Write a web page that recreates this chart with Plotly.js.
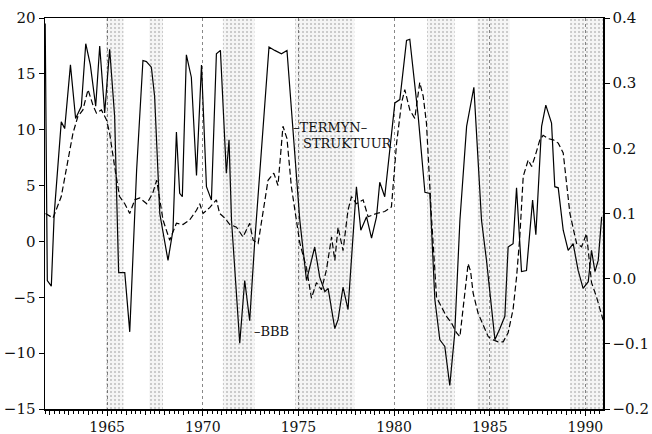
<!DOCTYPE html>
<html>
<head>
<meta charset="utf-8">
<script src="https://cdn.plot.ly/plotly-3.0.1.min.js"></script>
<style>html,body{margin:0;padding:0;background:#fff;}#chart{width:652px;height:434px;}</style>
</head>
<body>
<div id="chart"></div>
<script>
// BBB series (left axis)
const bbbYears = [1961.76,1961.87,1962.08,1962.23,1962.60,1962.78,1963.08,1963.35,1963.65,1963.88,
  1964.12,1964.40,1964.61,1964.87,1965.13,1965.39,1965.60,1965.92,1966.18,1966.44,1966.54,1966.87,
  1967.05,1967.31,1967.48,1967.75,1968.18,1968.44,1968.62,1968.79,1968.93,1969.14,1969.40,1969.67,
  1969.93,1970.19,1970.45,1970.71,1970.92,1971.23,1971.37,1971.50,1971.93,1972.19,1972.45,1972.71,
  1973.46,1973.76,1974.11,1974.40,1975.07,1975.42,1975.85,1976.11,1976.38,1976.55,1976.90,1977.07,
  1977.33,1977.59,1977.86,1978.03,1978.26,1978.56,1978.82,1979.08,1979.25,1979.51,1980.04,1980.30,
  1980.65,1980.82,1981.26,1981.61,1981.87,1982.13,1982.39,1982.65,1982.91,1983.17,1983.44,1983.79,
  1984.17,1984.57,1984.83,1985.27,1985.53,1985.79,1985.96,1986.22,1986.40,1986.66,1986.92,1987.24,
  1987.41,1987.71,1987.93,1988.23,1988.40,1988.58,1988.84,1989.10,1989.36,1989.62,1989.88,1990.15,
  1990.32,1990.50,1990.67,1990.85];
const bbbValues = [19.5,-3.5,-4.0,2.4,10.7,10.1,15.8,11.0,12.1,17.7,
  15.8,12.1,17.5,11.5,17.2,11.2,-2.8,-2.8,-8.1,2.4,6.4,16.2,
  16.1,15.6,13.0,2.5,-1.7,1.0,9.8,4.3,4.0,16.7,14.7,5.9,
  15.8,4.9,3.7,16.8,17.1,6.1,9.1,1.9,-9.1,-3.5,-7.1,-0.1,
  17.4,17.1,16.8,17.1,1.9,-3.5,-0.5,-3.2,-4.5,-4.2,-7.8,-7.0,
  -4.1,-6.1,0.4,4.9,1.0,2.2,0.3,2.2,5.3,4.0,12.4,12.7,
  18.0,18.1,11.2,4.4,4.3,-5.2,-8.8,-9.4,-12.9,-8.2,1.9,10.3,
  13.8,1.9,-1.7,-8.8,-7.8,-6.7,-0.5,-0.2,4.8,-2.7,-2.6,3.7,
  0.6,10.3,12.2,10.6,4.9,4.8,1.0,-0.8,-0.2,-2.6,-4.2,-3.6,
  -0.8,-2.7,-1.7,2.2];

// Term structure series (right axis)
const termYears = [1961.78,1962.17,1962.60,1962.87,1963.21,1963.47,1963.73,1964.00,1964.26,1964.44,
  1964.70,1964.96,1965.13,1965.39,1965.65,1965.92,1966.18,1966.44,1966.70,1967.07,1967.38,1967.59,
  1967.92,1968.27,1968.62,1968.96,1969.31,1969.67,1969.84,1970.01,1970.36,1970.71,1970.88,1971.15,
  1971.41,1971.76,1972.10,1972.45,1972.63,1972.89,1973.15,1973.41,1973.71,1973.93,1974.19,1974.40,
  1974.63,1974.90,1975.07,1975.42,1975.68,1975.94,1976.20,1976.46,1976.73,1976.90,1977.07,1977.33,
  1977.59,1977.77,1978.03,1978.38,1978.64,1979.08,1979.51,1979.86,1980.13,1980.39,1980.56,1980.82,
  1981.08,1981.34,1981.52,1981.69,1981.96,1982.22,1982.48,1982.74,1983.00,1983.26,1983.44,1983.70,
  1983.87,1984.00,1984.13,1984.39,1984.65,1984.92,1985.18,1985.44,1985.70,1985.96,1986.22,1986.40,
  1986.57,1986.75,1987.01,1987.19,1987.36,1987.62,1987.79,1988.05,1988.32,1988.58,1988.84,1989.02,
  1989.19,1989.54,1989.80,1990.06,1990.32,1990.59,1990.76,1990.92];
const termValues = [0.100,0.093,0.126,0.169,0.223,0.249,0.259,0.290,0.266,0.254,
  0.259,0.244,0.223,0.172,0.126,0.115,0.100,0.121,0.124,0.115,0.131,0.151,
  0.090,0.059,0.085,0.083,0.090,0.105,0.115,0.100,0.109,0.121,0.100,0.093,
  0.083,0.079,0.064,0.085,0.059,0.054,0.105,0.151,0.162,0.143,0.234,0.215,
  0.141,0.090,0.055,0.016,-0.030,-0.006,-0.017,0.013,0.064,0.028,0.079,0.043,
  0.105,0.126,0.115,0.121,0.095,0.100,0.103,0.110,0.208,0.270,0.290,0.259,
  0.246,0.301,0.280,0.239,0.091,-0.029,-0.044,-0.058,-0.068,-0.083,-0.089,-0.022,
  0.023,0.011,-0.022,-0.053,-0.071,-0.089,-0.094,-0.097,-0.097,-0.083,-0.047,0.002,
  0.064,0.157,0.182,0.172,0.187,0.213,0.220,0.215,0.213,0.208,0.193,0.141,
  0.100,0.054,0.049,0.069,-0.006,-0.029,-0.047,-0.063];

// Downswing phases (shaded)
const downStart = [1964.95,1967.20,1971.05,1974.82,1981.72,1984.35,1989.20];
const downEnd   = [1965.85,1967.92,1972.70,1977.92,1983.17,1986.05,1990.92];

const xLabelYears = [1965,1970,1975,1980,1985,1990];
const xLabelText = ['1965','1970','1975','1980','1985','1990'];
const leftTicks = [-15,-10,-5,0,5,10,15,20];
const rightTicks = [-0.2,-0.1,0.0,0.1,0.2,0.3,0.4];
const leftRange = [-15,20];
const rightRange = [-0.2,0.4];
const xRange = [1961.75,1990.92];

const FONT = 'DejaVu Serif';

const shadeX = downStart.map((s,i)=>(s+downEnd[i])/2);
const shadeW = downStart.map((s,i)=>downEnd[i]-s);
const shadeY = downStart.map(()=>leftRange[1]-leftRange[0]);
const shadeBase = downStart.map(()=>leftRange[0]);

const traces = [
  {type:'bar', x:shadeX, y:shadeY, base:shadeBase, width:shadeW, xaxis:'x2', yaxis:'y',
   marker:{color:'rgba(0,0,0,0.04)', line:{width:0},
     pattern:{shape:'.', size:4, solidity:0.13, fgcolor:'#333', fillmode:'overlay'}},
   hoverinfo:'skip', showlegend:false},
  {type:'scatter', mode:'lines', x:bbbYears, y:bbbValues, xaxis:'x', yaxis:'y',
   line:{color:'#000', width:1.2}, name:'BBB', showlegend:false},
  {type:'scatter', mode:'lines', x:termYears, y:termValues, xaxis:'x', yaxis:'y2',
   line:{color:'#000', width:1.2, dash:'6px,3px'}, name:'TERMYN-STRUKTUUR', showlegend:false}
];

const layout = {
  width:652, height:434,
  margin:{l:45, r:49, t:18, b:25},
  paper_bgcolor:'#fff', plot_bgcolor:'#fff',
  font:{family:FONT, size:14, color:'#111'},
  showlegend:false,
  barmode:'overlay',
  xaxis:{range:xRange, tickmode:'array', tickvals:xLabelYears, ticktext:xLabelText,
    ticks:'outside', ticklen:5, tickwidth:1, tickcolor:'#000',
    showgrid:true, gridcolor:'#888', griddash:'dot', gridwidth:1,
    showline:true, linecolor:'#000', linewidth:1.5, mirror:true, zeroline:false,
    minor:{tick0:0, dtick:0.25, ticks:'outside', ticklen:3, tickcolor:'#000', tickwidth:1, showgrid:false},
    tickfont:{family:FONT, size:14, color:'#111'}},
  xaxis2:{range:xRange, overlaying:'x', anchor:'y', side:'bottom', tickmode:'linear', tick0:0, dtick:1,
    ticks:'outside', ticklen:5, tickcolor:'#000', showticklabels:false, showgrid:false,
    showline:false, zeroline:false},
  yaxis:{range:leftRange, tickmode:'array', tickvals:leftTicks, ticks:'outside', ticklen:5,
    tickcolor:'#000', showline:true, linecolor:'#000', linewidth:1.5, showgrid:false, zeroline:false,
    tickfont:{family:FONT, size:15, color:'#111'}},
  yaxis2:{range:rightRange, overlaying:'y', side:'right', anchor:'x', tickmode:'array', tickvals:rightTicks,
    tickformat:'.1f', ticks:'outside', ticklen:5, tickcolor:'#000', showline:true, linecolor:'#000',
    linewidth:1.5, showgrid:false, zeroline:false, tickfont:{family:FONT, size:15, color:'#111'}},
  annotations:[
    {x:1974.6, y:10.2, xref:'x', yref:'y', text:'–TERMYN–', showarrow:false, xanchor:'left', yanchor:'middle',
     font:{family:FONT, size:13, color:'#111'}},
    {x:1975.15, y:8.8, xref:'x', yref:'y', text:'STRUKTUUR', showarrow:false, xanchor:'left', yanchor:'middle',
     font:{family:FONT, size:13, color:'#111'}},
    {x:1972.55, y:-8.1, xref:'x', yref:'y', text:'–BBB', showarrow:false, xanchor:'left', yanchor:'middle',
     font:{family:FONT, size:13, color:'#111'}}
  ]
};

Plotly.newPlot('chart', traces, layout, {displayModeBar:false, staticPlot:true});
</script>
</body>
</html>
